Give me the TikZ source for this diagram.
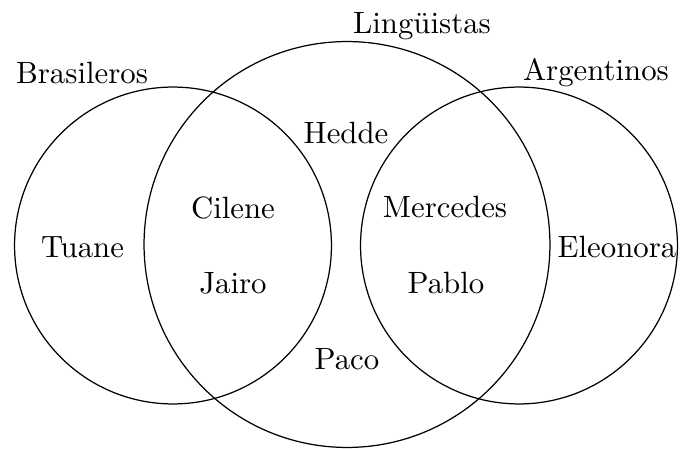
\documentclass[tikz,border=0pt]{standalone}
\begin{document}
\begin{tikzpicture}[x=0.3247pt,y=-0.3247pt,
  set/.style={circle,draw,inner sep=0pt},
  lbl/.style={anchor=base,inner sep=0pt}]
\useasboundingbox (0,0) rectangle (680,449);
\node[set,minimum size=102.9pt] (bra) at (173,245.5) {};
\node[set,minimum size=131.8pt] (lin) at (347,244.5) {};
\node[set,minimum size=102.9pt] (arg) at (519,245.5) {};
\node[lbl] (tbra) at (82,83) {Brasileros};
\node[lbl] (tlin) at (422,33) {Lingüistas};
\node[lbl] (targ) at (596,80) {Argentinos};
\node[lbl] (hedde) at (346,143) {Hedde};
\node[lbl] (cilene) at (233,218) {Cilene};
\node[lbl] (mercedes) at (445,217) {Mercedes};
\node[lbl] (tuane) at (82.5,257) {Tuane};
\node[lbl] (jairo) at (233,294) {Jairo};
\node[lbl] (pablo) at (446,294) {Pablo};
\node[lbl] (eleonora) at (617,257) {Eleonora};
\node[lbl] (paco) at (347,370) {Paco};
\end{tikzpicture}
\end{document}
